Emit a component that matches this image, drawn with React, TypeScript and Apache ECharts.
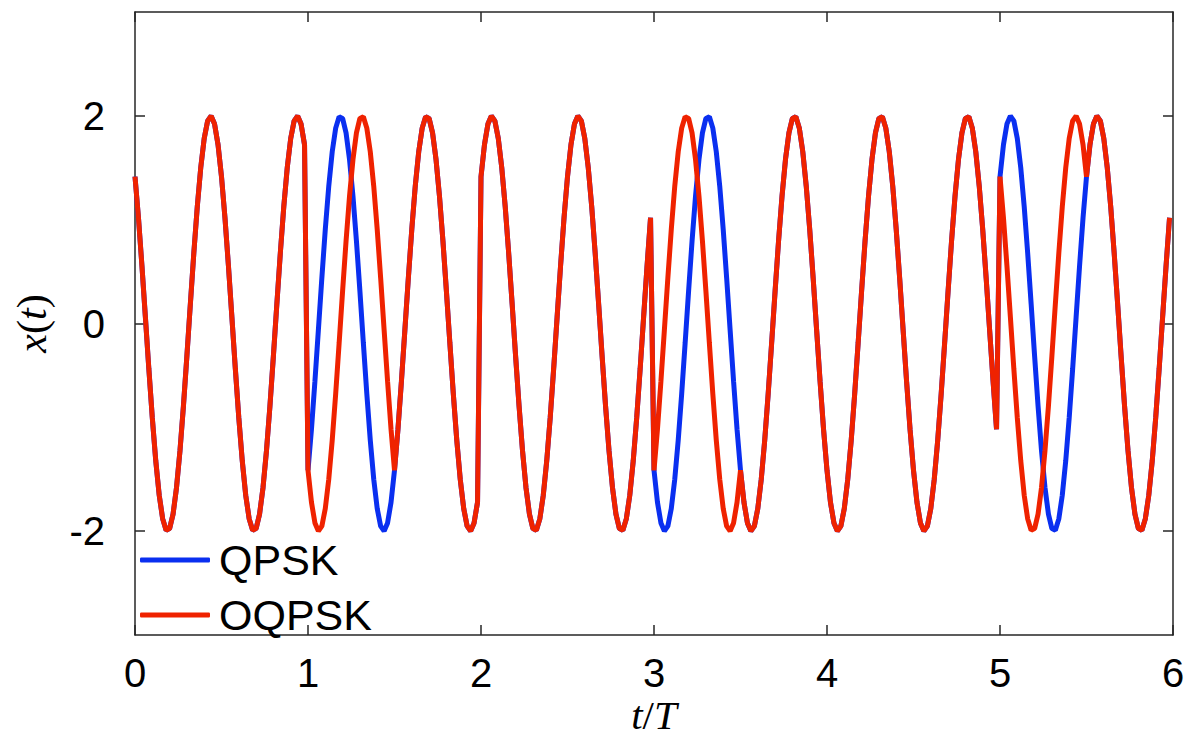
import React, { useEffect, useRef } from "react";
import * as echarts from "echarts";

// Symbols (sign of the in-phase and quadrature bits per symbol period T)
const I_SYMBOLS = [1, -1, 1, -1, -1, 1];
const Q_SYMBOLS = [1, -1, -1, 1, 1, -1];
const BIT_AMPLITUDE = Math.SQRT2; // peak of the waveform reads 2
const CARRIER_CYCLES_PER_T = 2; // two carrier periods per symbol
const SAMPLES_PER_T = 50;

const X_TICKS = [0, 1, 2, 3, 4, 5, 6];
const Y_TICKS = [-2, 0, 2];
const SERIES_NAMES = ["QPSK", "OQPSK"];
const SERIES_COLORS = ["#0a2ff0", "#ef2200"];

function waveform(offset: boolean): number[][] {
  const pts: number[][] = [];
  const total = I_SYMBOLS.length * SAMPLES_PER_T;
  for (let k = 0; k < total; k++) {
    const t = k / SAMPLES_PER_T;
    const n = Math.floor(k / SAMPLES_PER_T);
    let m = n;
    if (offset) {
      m = Math.max(0, Math.floor((k - SAMPLES_PER_T / 2) / SAMPLES_PER_T));
    }
    const th = 2 * Math.PI * CARRIER_CYCLES_PER_T * t;
    const v = BIT_AMPLITUDE * (I_SYMBOLS[n] * Math.cos(th) - Q_SYMBOLS[m] * Math.sin(th));
    pts.push([t, v]);
  }
  return pts;
}

export default function App() {
  const ref = useRef<HTMLDivElement>(null);
  useEffect(() => {
    if (!ref.current) return;
    const chart = echarts.init(ref.current, undefined, { renderer: "svg" });
    const axisColor = "#262626";
    const labelFont = "'Liberation Sans', Arial, Helvetica, sans-serif";
    const serif = "'Liberation Serif', 'Times New Roman', serif";
    const commonAxisLine = { show: true, onZero: false, lineStyle: { color: axisColor, width: 1.5 } };
    const tick = { show: true, inside: true, length: 10, lineStyle: { color: axisColor, width: 1.5 } };
    chart.setOption({
      animation: false,
      backgroundColor: "#ffffff",
      grid: { left: 135, right: 16, top: 12, bottom: 103, containLabel: false, outerBoundsMode: "none" },
      legend: {
        orient: "vertical",
        left: 140,
        top: 538,
        itemWidth: 70,
        itemHeight: 5,
        itemGap: 11,
        padding: 0,
        icon: "roundRect",
        textStyle: { fontFamily: labelFont, fontSize: 43, color: "#000", lineHeight: 44, padding: [0, 0, 0, 4] },
        data: SERIES_NAMES,
      },
      xAxis: [
        {
          type: "value",
          min: 0,
          max: 6,
          interval: 1,
          position: "bottom",
          axisLine: commonAxisLine,
          axisTick: tick,
          axisLabel: {
            show: true,
            margin: 19,
            fontFamily: labelFont,
            fontSize: 40,
            lineHeight: 38,
            color: "#000",
            formatter: (v: number) => (X_TICKS.includes(v) ? String(v) : ""),
          },
          splitLine: { show: false },
          name: "{i|t}{n|/}{i|T}",
          nameLocation: "middle",
          nameGap: 61,
          nameMoveOverlap: false,
          nameTextStyle: {
            lineHeight: 38,
            rich: {
              i: { fontFamily: serif, fontStyle: "italic", fontSize: 41, color: "#000", lineHeight: 38 },
              n: { fontFamily: serif, fontSize: 41, color: "#000", lineHeight: 38 },
            },
          },
        },
        {
          type: "value",
          min: 0,
          max: 6,
          interval: 1,
          position: "top",
          axisLine: commonAxisLine,
          axisTick: tick,
          axisLabel: { show: false },
          splitLine: { show: false },
        },
      ],
      yAxis: [
        {
          type: "value",
          min: -3,
          max: 3,
          position: "left",
          axisLine: commonAxisLine,
          axisTick: { ...tick, customValues: Y_TICKS },
          axisLabel: {
            show: true,
            margin: 30,
            fontFamily: labelFont,
            fontSize: 40,
            color: "#000",
            customValues: Y_TICKS,
          },
          splitLine: { show: false },
          name: "{i|x}{n|(}{i|t}{n|)}",
          nameLocation: "middle",
          nameRotate: 90,
          nameGap: 82,
          nameTextStyle: {
            rich: {
              i: { fontFamily: serif, fontStyle: "italic", fontSize: 42, color: "#000" },
              n: { fontFamily: serif, fontSize: 42, color: "#000" },
            },
          },
        },
        {
          type: "value",
          min: -3,
          max: 3,
          position: "right",
          axisLine: commonAxisLine,
          axisTick: { ...tick, customValues: Y_TICKS },
          axisLabel: { show: false },
          splitLine: { show: false },
        },
      ],
      series: [
        {
          name: SERIES_NAMES[0],
          type: "line",
          data: waveform(false),
          symbol: "none",
          showSymbol: false,
          color: SERIES_COLORS[0],
          lineStyle: { color: SERIES_COLORS[0], width: 5 },
          z: 2,
        },
        {
          name: SERIES_NAMES[1],
          type: "line",
          data: waveform(true),
          symbol: "none",
          showSymbol: false,
          color: SERIES_COLORS[1],
          lineStyle: { color: SERIES_COLORS[1], width: 5 },
          z: 3,
        },
      ],
    });
    return () => chart.dispose();
  }, []);
  return <div ref={ref} style={{ width: 1189, height: 738, position: "absolute", left: 0, top: 0 }} />;
}
